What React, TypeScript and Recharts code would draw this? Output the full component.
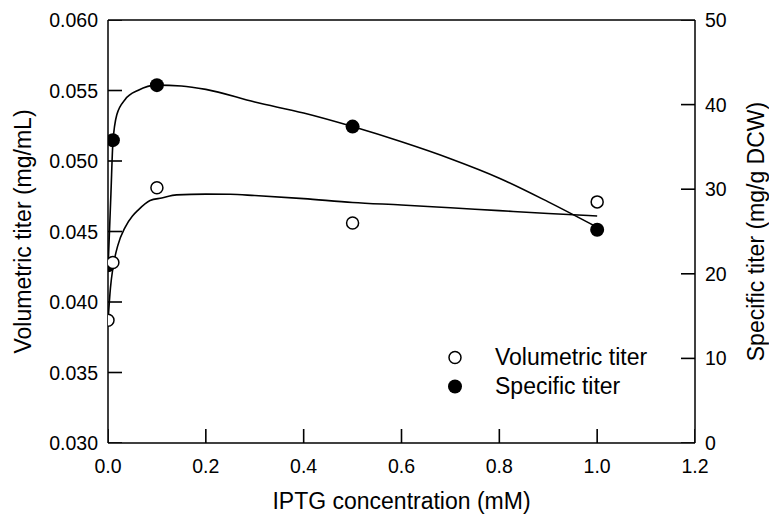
import React from "react";
import {
  ComposedChart,
  Line,
  Scatter,
  XAxis,
  YAxis,
  ReferenceLine,
  Label,
} from "recharts";

// ── Theme ──────────────────────────────────────────────────────────────────────

const FONT = '"Liberation Sans", Arial, Helvetica, sans-serif';
const INK = "#000000";
const W = 769;
const H = 515;
const TICK_LEN = 14;   // inward tick length
const GAP = 10;        // axis → label gap

// ── Data ───────────────────────────────────────────────────────────────────────

const xTicks = [0, 0.2, 0.4, 0.6, 0.8, 1.0, 1.2];
const volTicks = [0.03, 0.035, 0.04, 0.045, 0.05, 0.055, 0.06];
const specTicks = [0, 10, 20, 30, 40, 50];

// measured points
const iptg = [0, 0.01, 0.1, 0.5, 1.0];
const volumetric = [0.0387, 0.0428, 0.0481, 0.0456, 0.0471];
const specific = [21.0, 35.8, 42.3, 37.4, 25.2];

// fitted curves
const volFitX = [0, 0.005, 0.01, 0.02, 0.035, 0.05, 0.061, 0.086, 0.11, 0.14, 0.2, 0.25, 0.3, 0.4, 0.5, 0.6, 0.7, 0.8, 0.9, 1.0];
const volFitY = [0.0386, 0.041, 0.0424, 0.044, 0.0453, 0.0461, 0.0465, 0.0472, 0.04738, 0.0476, 0.04765, 0.04764, 0.04755, 0.04733, 0.04706, 0.04688, 0.04668, 0.04648, 0.04628, 0.0461];

const specFitX = [0, 0.003, 0.006, 0.01, 0.018, 0.035, 0.062, 0.1, 0.15, 0.2, 0.3, 0.4, 0.5, 0.6, 0.7, 0.8, 0.9, 1.0];
const specFitY = [20.5, 25, 29.5, 35.5, 38.8, 40.6, 41.7, 42.3, 42.2, 41.8, 40.3, 39.0, 37.4, 35.6, 33.6, 31.3, 28.5, 25.5];

const legendLabels = ["Volumetric titer", "Specific titer"];

const volPoints = iptg.map((x, i) => ({ x, y: volumetric[i] }));
const specPoints = iptg.map((x, i) => ({ x, y: specific[i] }));
const volFit = volFitX.map((x, i) => ({ x, y: volFitY[i] }));
const specFit = specFitX.map((x, i) => ({ x, y: specFitY[i] }));

// tick-mark anchors on the frame (placed through the axis scales)
const leftMarks = volTicks.map((y) => ({ x: 0, y }));
const rightMarks = specTicks.map((y) => ({ x: 1.2, y }));
const bottomMarks = xTicks.map((x) => ({ x, y: 0.03 }));

// ── Markers ────────────────────────────────────────────────────────────────────

function OpenDot(p: any) {
  return <circle cx={p.cx} cy={p.cy} r={6} fill="#fff" stroke={INK} strokeWidth={1.5} />;
}

function FilledDot(p: any) {
  return <circle cx={p.cx} cy={p.cy} r={7} fill={INK} stroke="none" />;
}

// inward tick stubs
function LeftStub(p: any) {
  return <line x1={p.cx} x2={p.cx + TICK_LEN} y1={p.cy} y2={p.cy} stroke={INK} strokeWidth={1.6} />;
}
function RightStub(p: any) {
  return <line x1={p.cx} x2={p.cx - TICK_LEN} y1={p.cy} y2={p.cy} stroke={INK} strokeWidth={1.6} />;
}
function BottomStub(p: any) {
  return <line x1={p.cx} x2={p.cx} y1={p.cy} y2={p.cy - TICK_LEN} stroke={INK} strokeWidth={1.6} />;
}

// ── Tick labels ────────────────────────────────────────────────────────────────

function Tick({ x, y, payload, side, fmt }: any) {
  const label = fmt ? fmt(payload.value) : String(payload.value);
  const txt = { fill: INK, fontSize: 19.5, fontFamily: FONT };
  if (side === "bottom") {
    return <text x={x} y={y} dy="0.72em" textAnchor="middle" {...txt}>{label}</text>;
  }
  return (
    <text x={x} y={y} dy="0.36em" textAnchor={side === "left" ? "end" : "start"} {...txt}>
      {label}
    </text>
  );
}

// ── Axis titles ────────────────────────────────────────────────────────────────

function VTitle({ viewBox, value, dx }: any) {
  const cx = viewBox.x + dx;
  const cy = viewBox.y + viewBox.height / 2;
  return (
    <text
      transform={`translate(${cx},${cy}) rotate(-90)`}
      textAnchor="middle"
      dominantBaseline="central"
      fontSize={23}
      fontFamily={FONT}
      fill={INK}
    >
      {value}
    </text>
  );
}

function XTitle({ viewBox, value }: any) {
  return (
    <text
      x={viewBox.x + viewBox.width / 2}
      y={viewBox.y + 58}
      textAnchor="middle"
      dominantBaseline="central"
      fontSize={23}
      fontFamily={FONT}
      fill={INK}
    >
      {value}
    </text>
  );
}

// ── Legend ─────────────────────────────────────────────────────────────────────

function LegendBox() {
  return (
    <div
      style={{
        position: "absolute",
        left: 440,
        top: 343,
        fontFamily: FONT,
        fontSize: 23,
        color: INK,
        lineHeight: "29px",
      }}
    >
      {legendLabels.map((label, i) => (
        <div key={label} style={{ display: "flex", alignItems: "center" }}>
          <svg width={55} height={29}>
            {i === 0 ? (
              <circle cx={15} cy={14.5} r={6} fill="#fff" stroke={INK} strokeWidth={1.5} />
            ) : (
              <circle cx={15} cy={14.5} r={7} fill={INK} />
            )}
          </svg>
          <span>{label}</span>
        </div>
      ))}
    </div>
  );
}

// ── Chart ──────────────────────────────────────────────────────────────────────

const axisStroke = { stroke: INK, strokeWidth: 1.5 };

export default function App() {
  return (
    <div style={{ position: "absolute", left: 0, top: 0, width: W, height: H, background: "#fff" }}>
      <ComposedChart width={W} height={H} margin={{ top: 20, right: 0, bottom: 0, left: 0 }}>
        <XAxis
          dataKey="x"
          type="number"
          domain={[0, 1.2]}
          ticks={xTicks}
          interval={0}
          tick={<Tick side="bottom" fmt={(v: number) => v.toFixed(1)} />}
          tickSize={0}
          tickMargin={GAP + 6}
          tickLine={false}
          axisLine={axisStroke}
          height={72}
          allowDataOverflow
        >
          <Label value="IPTG concentration (mM)" content={<XTitle />} />
        </XAxis>
        <YAxis
          yAxisId="vol"
          orientation="left"
          type="number"
          domain={[0.03, 0.06]}
          ticks={volTicks}
          interval={0}
          tick={<Tick side="left" fmt={(v: number) => v.toFixed(3)} />}
          tickSize={0}
          tickMargin={GAP}
          tickLine={false}
          axisLine={axisStroke}
          width={108}
          allowDataOverflow
        >
          <Label value="Volumetric titer (mg/mL)" content={<VTitle dx={23} />} />
        </YAxis>
        <YAxis
          yAxisId="spec"
          orientation="right"
          type="number"
          domain={[0, 50]}
          ticks={specTicks}
          interval={0}
          tick={<Tick side="right" />}
          tickSize={0}
          tickMargin={GAP}
          tickLine={false}
          axisLine={axisStroke}
          width={74}
          allowDataOverflow
        >
          <Label value="Specific titer (mg/g DCW)" content={<VTitle dx={61} />} />
        </YAxis>

        {/* top frame */}
        <ReferenceLine yAxisId="vol" y={0.06} stroke={INK} strokeWidth={1.5} />

        {/* inward tick marks */}
        <Scatter yAxisId="vol" data={leftMarks} dataKey="y" shape={<LeftStub />} isAnimationActive={false} />
        <Scatter yAxisId="spec" data={rightMarks} dataKey="y" shape={<RightStub />} isAnimationActive={false} />
        <Scatter yAxisId="vol" data={bottomMarks} dataKey="y" shape={<BottomStub />} isAnimationActive={false} />

        {/* fitted curves */}
        <Line
          yAxisId="vol"
          data={volFit}
          dataKey="y"
          type="monotone"
          stroke={INK}
          strokeWidth={1.6}
          dot={false}
          activeDot={false}
          isAnimationActive={false}
        />
        <Line
          yAxisId="spec"
          data={specFit}
          dataKey="y"
          type="monotone"
          stroke={INK}
          strokeWidth={1.6}
          dot={false}
          activeDot={false}
          isAnimationActive={false}
        />

        {/* measured points */}
        <Scatter yAxisId="spec" data={specPoints} dataKey="y" shape={<FilledDot />} isAnimationActive={false} />
        <Scatter yAxisId="vol" data={volPoints} dataKey="y" shape={<OpenDot />} isAnimationActive={false} />
      </ComposedChart>
      <LegendBox />
    </div>
  );
}
